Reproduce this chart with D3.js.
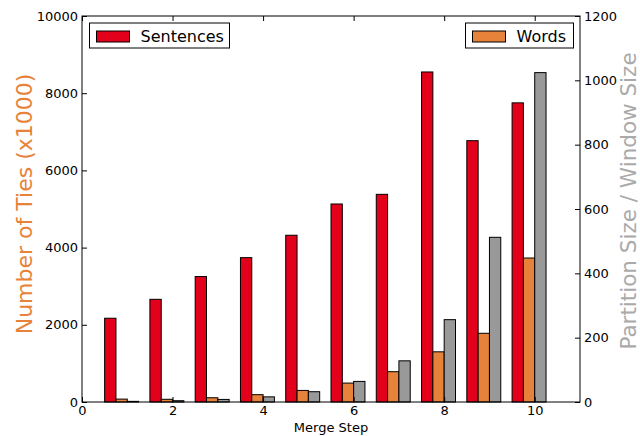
<!DOCTYPE html>
<html><head><meta charset="utf-8">
<script src="https://cdn.jsdelivr.net/npm/d3@7"></script>
<style>body{margin:0;background:#fff}svg{display:block}text{font-family:"DejaVu Sans",sans-serif}</style>
</head><body><svg id="c" width="640" height="436"></svg>
<script>
const steps = [1,2,3,4,5,6,7,8,9,10];
const sentences = [2170,2660,3250,3740,4320,5130,5380,8550,6770,7750];
const words = [75,70,110,190,300,490,785,1300,1780,3730];
const partition = [2,4,8,16,32,64,128,256,512,1024];
const xTicks = [0,2,4,6,8,10];
const leftTicks = [0,2000,4000,6000,8000,10000];
const rightTicks = [0,200,400,600,800,1000,1200];
const colors = {sent:"#e2001a", words:"#e6823a", part:"#999999"};

const svg = d3.select("#c");
const m = {l:82, r:580, t:16, b:402};
const x = d3.scaleLinear().domain([0,11]).range([m.l, m.r]);
const yL = d3.scaleLinear().domain([0,10000]).range([m.b, m.t]);
const yR = d3.scaleLinear().domain([0,1200]).range([m.b, m.t]);
const bw = x(0.25) - x(0);

const g = svg.append("g");
function bars(vals, off, scale, col){
  g.selectAll(null).data(vals).enter().append("rect")
   .attr("x", (d,i)=>x(steps[i]+off))
   .attr("width", bw)
   .attr("y", d=>scale(d))
   .attr("height", d=>scale(0)-scale(d))
   .attr("fill", col).attr("stroke","#000").attr("stroke-width",1);
}
bars(sentences, -0.5, yL, colors.sent);
bars(words, -0.25, yL, colors.words);
bars(partition, 0, yR, colors.part);

// frame
svg.append("rect").attr("x",m.l).attr("y",m.t).attr("width",m.r-m.l).attr("height",m.b-m.t)
  .attr("fill","none").attr("stroke","#000").attr("stroke-width",1);

const fs = 13;
const bx = svg.append("g").attr("transform",`translate(0,${m.b})`)
  .call(d3.axisBottom(x).tickValues(xTicks).tickSizeInner(-5).tickSizeOuter(0).tickPadding(4));
const tx = svg.append("g").attr("transform",`translate(0,${m.t})`)
  .call(d3.axisTop(x).tickValues(xTicks).tickSizeInner(-5).tickSizeOuter(0).tickFormat(""));
const ly = svg.append("g").attr("transform",`translate(${m.l},0)`)
  .call(d3.axisLeft(yL).tickValues(leftTicks).tickSizeInner(-5).tickSizeOuter(0).tickPadding(4).tickFormat(d3.format("d")));
const ry = svg.append("g").attr("transform",`translate(${m.r},0)`)
  .call(d3.axisRight(yR).tickValues(rightTicks).tickSizeInner(-5).tickSizeOuter(0).tickPadding(4).tickFormat(d3.format("d")));
[bx,tx,ly,ry].forEach(a=>{
  a.select(".domain").remove();
  a.selectAll("text").style("font-size",fs+"px").attr("fill","#000").style("font-family","DejaVu Sans");
  a.selectAll("line").attr("stroke","#000");
});

svg.append("text").attr("x",(m.l+m.r)/2).attr("y",432).attr("text-anchor","middle")
  .style("font-size","13px").text("Merge Step");
svg.append("text").attr("transform","translate(32,204) rotate(-90)").attr("text-anchor","middle")
  .style("font-size","22px").attr("fill",colors.words).text("Number of Ties (x1000)");
svg.append("text").attr("transform","translate(636,201) rotate(-90)").attr("text-anchor","middle")
  .style("font-size","21.5px").attr("fill","#aaaaaa").text("Partition Size / Window Size");

function legend(x0, w, label, col){
  const lg = svg.append("g");
  lg.append("rect").attr("x",x0).attr("y",23).attr("width",w).attr("height",25)
    .attr("fill","#fff").attr("stroke","#000").attr("stroke-width",1);
  lg.append("rect").attr("x",x0+7).attr("y",31).attr("width",33).attr("height",11)
    .attr("fill",col).attr("stroke","#000").attr("stroke-width",1);
  lg.append("text").attr("x",x0+51).attr("y",42).style("font-size","16px").text(label);
}
legend(89.5, 140, "Sentences", colors.sent);
legend(465.5, 108, "Words", colors.words);
</script></body></html>
